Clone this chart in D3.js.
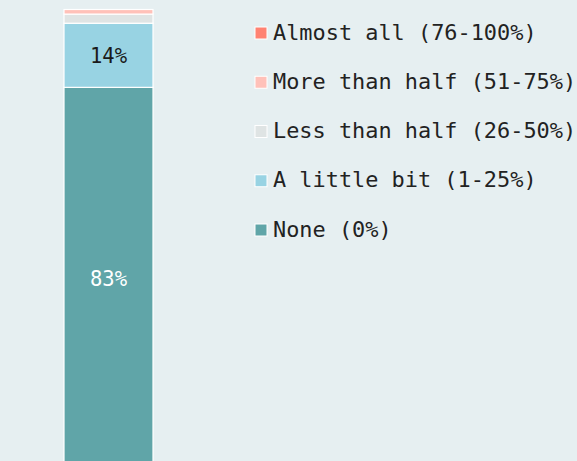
<!DOCTYPE html>
<html><head><meta charset="utf-8">
<script src="https://cdn.jsdelivr.net/npm/d3@7"></script>
<style>
html,body{margin:0;padding:0;background:#e6eff1;}
svg{display:block;}
text{font-family:"DejaVu Sans Mono","Liberation Mono",monospace;}
</style></head>
<body>
<svg id="chart" width="577" height="461"></svg>
<script>
const categories = ["None (0%)", "A little bit (1-25%)", "Less than half (26-50%)", "More than half (51-75%)", "Almost all (76-100%)"];
const values = [83, 14, 2, 1, 0];
const colors = ["#60a5a8", "#98d3e3", "#dfe4e4", "#ffc1b9", "#ff8272"];
const legendOrder = [4, 3, 2, 1, 0];

const svg = d3.select("#chart");
const W = 577, H = 461;
svg.append("rect").attr("width", W).attr("height", H).attr("fill", "#e6eff1");

const x = d3.scaleBand().domain(["all"]).range([64, 153]).padding(0);
const y = d3.scaleLinear().domain([0, 100]).range([467.5, 9.5]);

let cum = 0;
const segs = values.map((v, i) => { const s = {i, v, y0: cum, y1: cum + v}; cum += v; return s; });

const g = svg.append("g");
g.selectAll("rect.seg").data(segs.filter(d => d.v > 0)).join("rect")
  .attr("class", "seg")
  .attr("x", x("all"))
  .attr("width", x.bandwidth())
  .attr("y", d => y(d.y1))
  .attr("height", d => y(d.y0) - y(d.y1))
  .attr("fill", d => colors[d.i])
  .attr("stroke", "#ffffff")
  .attr("stroke-width", 1.2);

g.selectAll("text.lbl").data(segs.filter(d => d.v >= 10)).join("text")
  .attr("class", "lbl")
  .attr("x", x("all") + x.bandwidth() / 2)
  .attr("y", d => (y(d.y0) + y(d.y1)) / 2 + 1)
  .attr("dy", "0.35em")
  .attr("text-anchor", "middle")
  .attr("font-size", 20.5)
  .attr("fill", d => d.i === 0 ? "#ffffff" : "#1a1a1a")
  .text(d => d.v + "%");

const leg = svg.append("g");
const ly = d3.scalePoint().domain(legendOrder).range([33, 230]);
const items = leg.selectAll("g").data(legendOrder).join("g")
  .attr("transform", i => `translate(255,${ly(i)})`);
items.append("rect")
  .attr("x", 0).attr("y", -6).attr("width", 12).attr("height", 12)
  .attr("fill", i => colors[i]).attr("stroke", "#ffffff").attr("stroke-width", 1);
items.append("text")
  .attr("x", 18).attr("y", -1).attr("dy", "0.35em")
  .attr("font-size", 21.9).attr("fill", "#222222")
  .text(i => categories[i]);
</script>
</body></html>
